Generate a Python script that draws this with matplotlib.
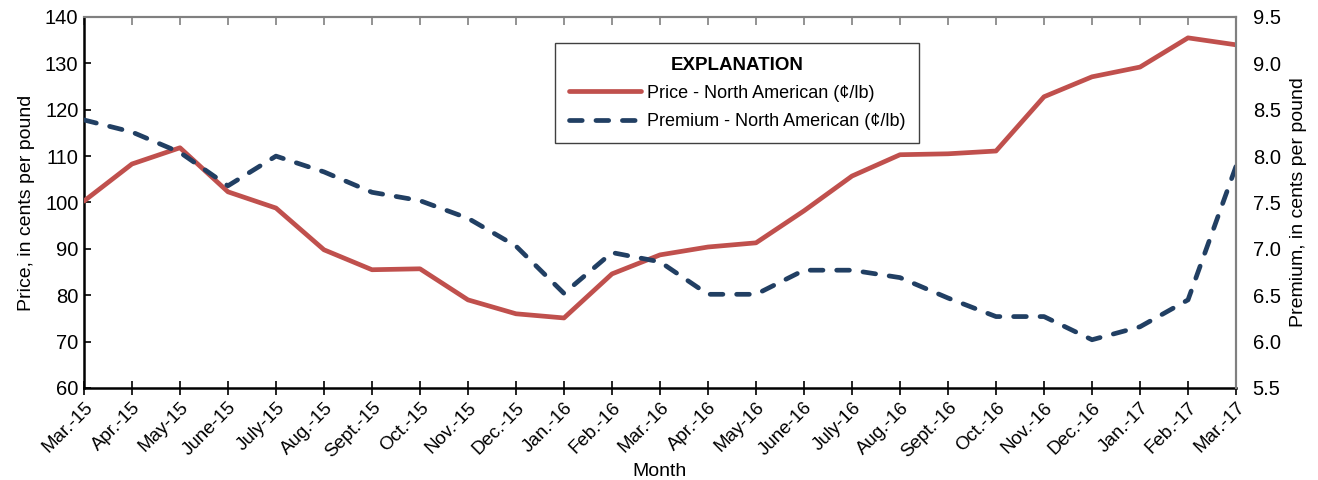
import matplotlib
matplotlib.use('Agg')
import matplotlib.pyplot as plt

# =====================
# DATA
# =====================
months = ['Mar.-15', 'Apr.-15', 'May-15', 'June-15', 'July-15', 'Aug.-15', 'Sept.-15',
          'Oct.-15', 'Nov.-15', 'Dec.-15', 'Jan.-16', 'Feb.-16', 'Mar.-16', 'Apr.-16',
          'May-16', 'June-16', 'July-16', 'Aug.-16', 'Sept.-16', 'Oct.-16', 'Nov.-16',
          'Dec.-16', 'Jan.-17', 'Feb.-17', 'Mar.-17']
price = [100.3, 108.3, 111.8, 102.3, 98.8, 89.8, 85.5, 85.7, 79.0, 76.0, 75.1, 84.6,
         88.7, 90.4, 91.3, 98.2, 105.7, 110.3, 110.5, 111.1, 122.8, 127.1, 129.2,
         135.5, 134.0]
premium = [8.39, 8.26, 8.04, 7.68, 8.00, 7.83, 7.61, 7.52, 7.33, 7.03, 6.52, 6.96,
           6.86, 6.51, 6.51, 6.77, 6.77, 6.69, 6.47, 6.27, 6.27, 6.02, 6.16, 6.45, 7.89]

plt.rcParams['font.family'] = ['Liberation Sans', 'DejaVu Sans']

RED = '#C0504D'
NAVY = '#213F63'

fig = plt.figure(figsize=(13.18, 4.8), dpi=100)
ax = fig.add_axes([0.0637, 0.1917, 0.8741, 0.7729])
ax2 = ax.twinx()

x = list(range(len(months)))
l1, = ax.plot(x, price, color=RED, lw=3.4, solid_capstyle='round', zorder=3)
l2, = ax2.plot(x, premium, color=NAVY, lw=3.4, dashes=(2.7, 2.9), dash_capstyle='round')

ax.set_xlim(0, len(months) - 1)
ax.set_ylim(60, 140)
ax2.set_ylim(5.5, 9.5)
ax.set_yticks(range(60, 141, 10))
ax2.set_yticks([5.5 + 0.5 * i for i in range(9)])
ax2.set_yticklabels(['%.1f' % (5.5 + 0.5 * i) for i in range(9)], fontsize=14.5)
ax.tick_params(axis='y', labelsize=14.5, direction='in', length=5, width=1.2, pad=4)
ax2.tick_params(axis='y', length=0, pad=12)

ax.set_xticks(x)
ax.set_xticklabels(months, rotation=45, ha='right', rotation_mode='anchor', fontsize=13.5)
ax.tick_params(axis='x', direction='inout', length=10, width=1.2, pad=3)

# gray inward ticks along the top edge
top = ax.secondary_xaxis('top')
top.set_xticks(x)
top.tick_params(axis='x', direction='in', length=6, width=1.2, color='#808080', labeltop=False)
top.spines['top'].set_visible(False)

for s in ['left', 'bottom']:
    ax.spines[s].set_color('black')
    ax.spines[s].set_linewidth(1.8)
for s in ['top', 'right']:
    ax.spines[s].set_color('#808080')
    ax.spines[s].set_linewidth(1.5)
    ax2.spines[s].set_color('#808080')
    ax2.spines[s].set_linewidth(1.5)
ax2.spines['left'].set_visible(False)
ax2.spines['bottom'].set_visible(False)

ax.set_xlabel('Month', fontsize=14, labelpad=1)
ax.set_ylabel('Price, in cents per pound', fontsize=14, labelpad=7)
ax2.set_ylabel('Premium, in cents per pound', fontsize=14, labelpad=7)

leg = ax2.legend([l1, l2], ['Price - North American (\u00a2/lb)', 'Premium - North American (\u00a2/lb)'],
                 title='EXPLANATION', loc='upper left', bbox_to_anchor=(0.409, 0.93),
                 fontsize=13, title_fontproperties={'weight': 'bold', 'size': 13.5},
                 frameon=True, fancybox=False, edgecolor='#404040', handlelength=4.0,
                 borderpad=0.75, labelspacing=0.62, handletextpad=0.35, borderaxespad=0)
leg.get_frame().set_linewidth(1.0)
leg.get_frame().set_alpha(1)

fig.savefig('out.png', dpi=100)
